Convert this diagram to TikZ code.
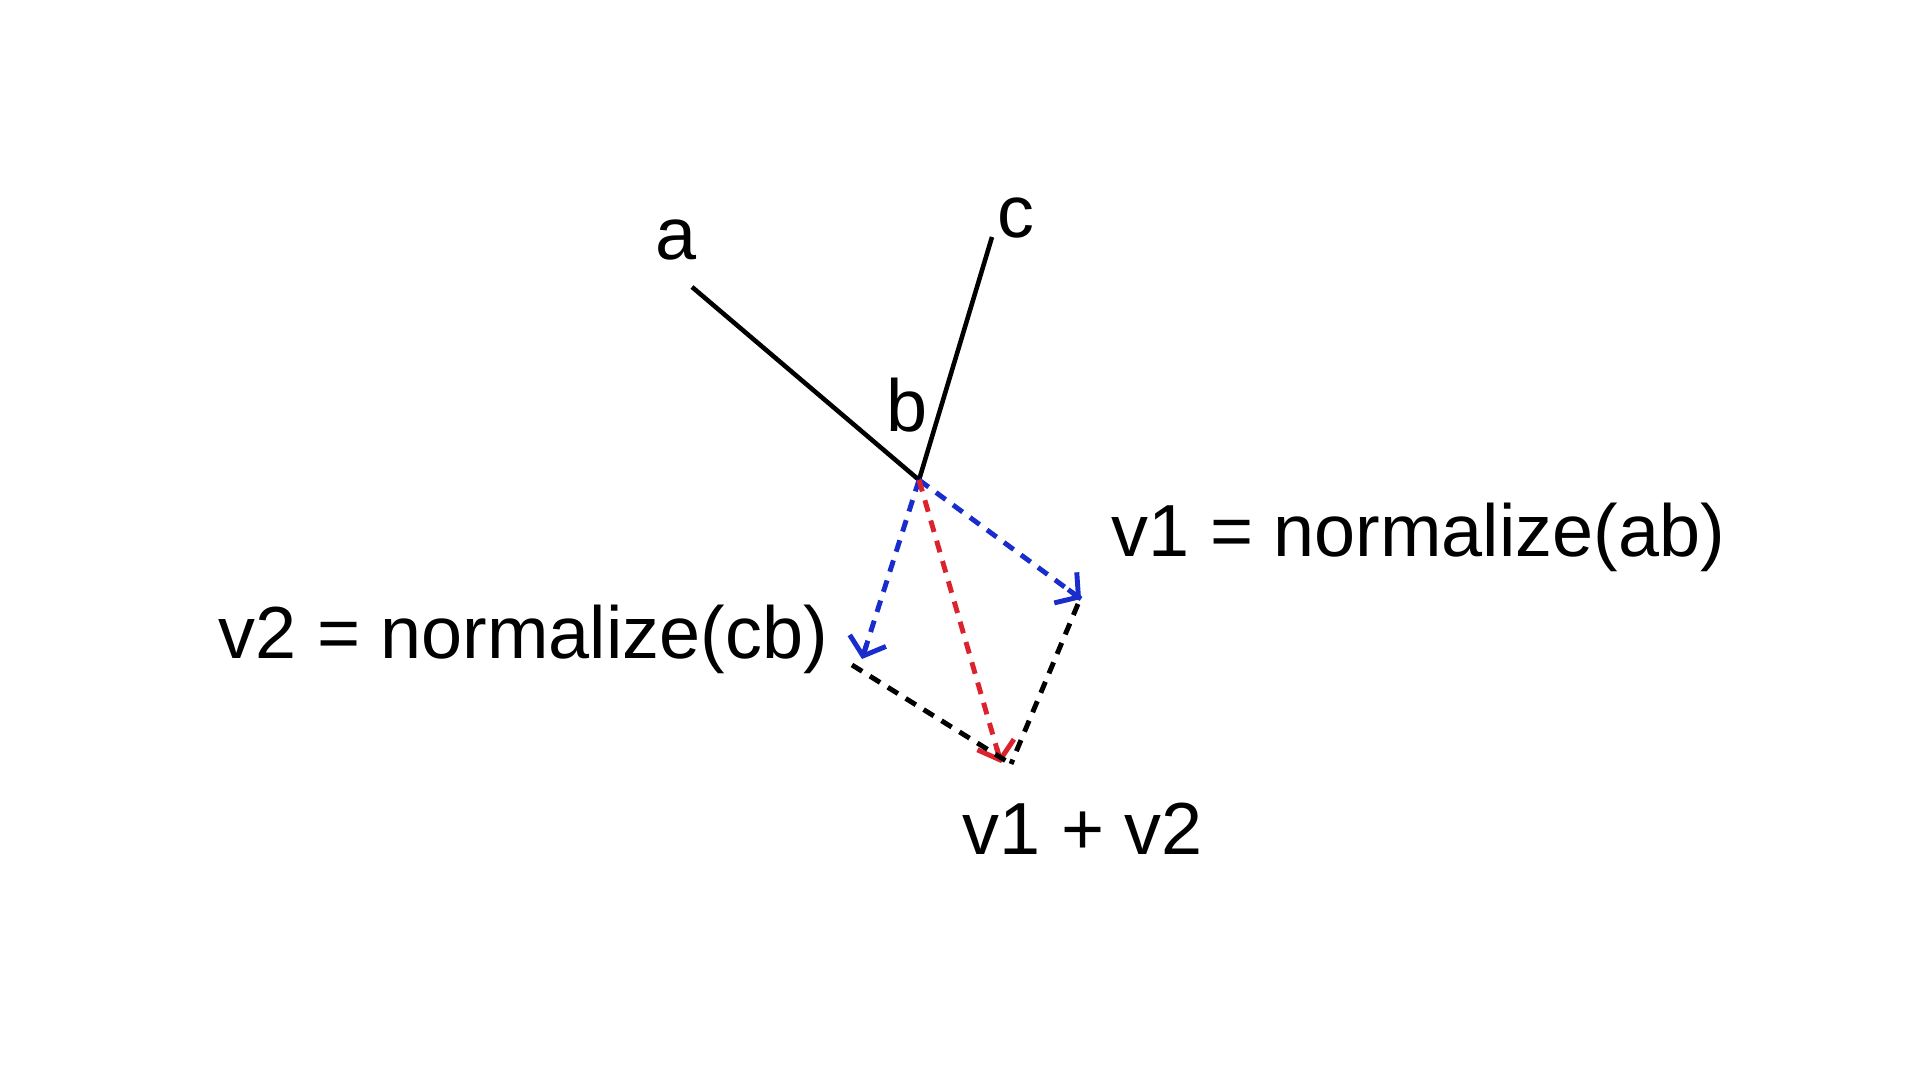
\documentclass[tikz,border=0pt]{standalone}
\usepackage{fontspec}
\setmainfont{Liberation Sans}
\usepackage{tikz}
\usetikzlibrary{arrows.meta,calc}
\definecolor{vecblue}{RGB}{25,45,205}
\definecolor{vecred}{RGB}{220,35,45}
\tikzset{
	seg/.style={line width=1.3pt},
	vecdash/.style={line width=1.4pt, dash pattern=on 3.4pt off 2.6pt},
	vectip/.style={line width=1.4pt, solid, -{Straight Barb[length=1.6mm,width=3.8mm,line width=1.4pt]}},
	lbl/.style={inner sep=0pt, anchor=base west, font=\fontsize{21}{25}\selectfont}
}
\def\dasharrow[#1](#2)(#3){\draw[vecdash,#1] (#2) -- (#3); \draw[vectip,#1] ($(#3)!1.6mm!(#2)$) -- (#3);}

\begin{document}
\begin{tikzpicture}
		%%%%% START %%%%%
		\useasboundingbox (0, 0) rectangle (19.2, 10.8);
		
		\coordinate (a) at (6.92, 7.93);
		\coordinate (b) at (9.19, 6.00);
		\coordinate (c) at (9.92, 8.43);
		\coordinate (v1) at (10.81, 4.81);
		\coordinate (v2) at (8.62, 4.21);
		\coordinate (sum) at (10.01, 3.17);
		\coordinate (p1) at (10.78, 4.76);
		\coordinate (p2) at (8.52, 4.15);
		\coordinate (q) at (10.11, 3.16);
		
		\draw[seg] (a) -- (b) -- (c);
		
		\node[lbl] (la) at (6.55, 8.20) {a};
		\node[lbl] (lc) at (9.97, 8.42) {c};
		\node[lbl] (lb) at (8.86, 6.48) {b};
		
		\dasharrow[vecblue](b)(v1);
		\dasharrow[vecblue](b)(v2);
		\dasharrow[vecred](b)(sum);
		
		\draw[vecdash] (p2) -- (q);
		\draw[vecdash] (p1) -- (q);
		
		\node[lbl] (lv1) at (11.11, 5.23) {v1 = normalize(ab)};
		\node[lbl] (lv2) at (2.18, 4.21) {v2 = normalize(cb)};
		\node[lbl] (lsum) at (9.62, 2.25) {v1 + v2};
		%%%%% END %%%%%
	\end{tikzpicture}
\end{document}
